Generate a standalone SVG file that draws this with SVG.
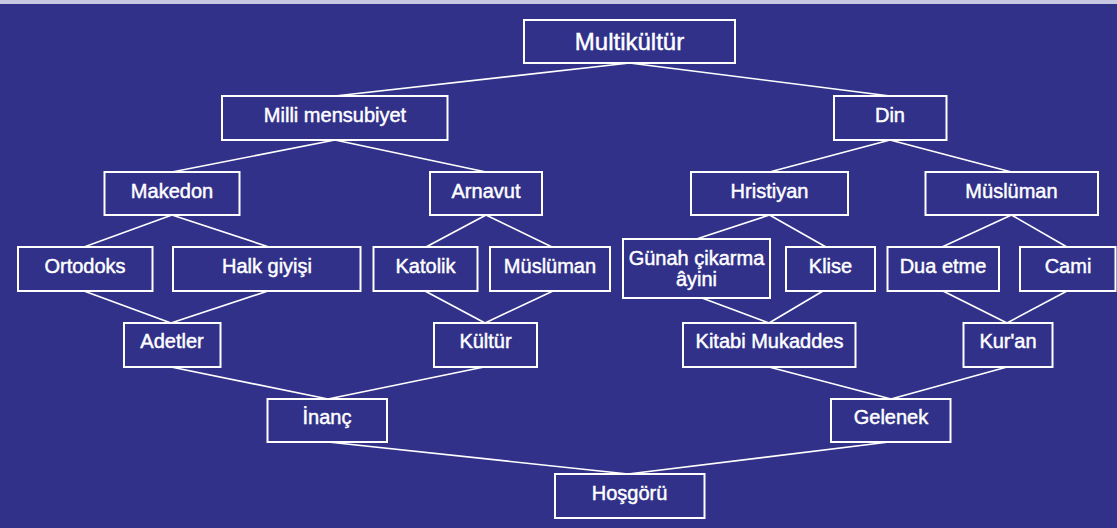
<svg xmlns="http://www.w3.org/2000/svg" width="1117" height="528" viewBox="0 0 1117 528">
<style>
.bx{fill:none;stroke:#ffffff;stroke-width:2}
.t{font-family:"Liberation Sans",Arial,sans-serif;font-size:20px;fill:#ffffff;stroke:#ffffff;stroke-width:0.45;text-anchor:middle}
.big{font-size:24px}
#connectors line{stroke:#ffffff;stroke-width:1.6}
</style>
<rect x="0" y="0" width="1117" height="528" fill="#31318a"/>
<rect x="0" y="0" width="1117" height="4" fill="#c8c8e2"/>
<g id="connectors">
<line x1="629.5" y1="63" x2="335" y2="96"/>
<line x1="629.5" y1="63" x2="890" y2="96"/>
<line x1="335" y1="140" x2="172" y2="172"/>
<line x1="335" y1="140" x2="486" y2="172"/>
<line x1="890" y1="140" x2="769.5" y2="172"/>
<line x1="890" y1="140" x2="1011.5" y2="172"/>
<line x1="172" y1="215" x2="84" y2="247"/>
<line x1="172" y1="215" x2="269" y2="247"/>
<line x1="486" y1="215" x2="426" y2="247"/>
<line x1="486" y1="215" x2="552" y2="247"/>
<line x1="769.5" y1="215" x2="696.5" y2="239"/>
<line x1="769.5" y1="215" x2="826" y2="247"/>
<line x1="1011.5" y1="215" x2="942" y2="247"/>
<line x1="1011.5" y1="215" x2="1067" y2="247"/>
<line x1="84" y1="291" x2="171" y2="323"/>
<line x1="268" y1="291" x2="171" y2="323"/>
<line x1="425" y1="291" x2="485" y2="323"/>
<line x1="553" y1="291" x2="485" y2="323"/>
<line x1="702" y1="298" x2="769" y2="323"/>
<line x1="823" y1="291" x2="769" y2="323"/>
<line x1="943" y1="291" x2="1007" y2="323"/>
<line x1="1067" y1="291" x2="1007" y2="323"/>
<line x1="171" y1="367" x2="328" y2="399"/>
<line x1="484" y1="367" x2="328" y2="399"/>
<line x1="769" y1="367" x2="891" y2="399"/>
<line x1="1007" y1="367" x2="891" y2="399"/>
<line x1="328" y1="442" x2="628" y2="474"/>
<line x1="889" y1="442" x2="628" y2="474"/>
</g>
<g id="multikultur"><rect class="bx" x="524" y="20" width="211" height="43"/><text class="t big" x="629.5" y="49.5">Multikültür</text></g>
<g id="milli"><rect class="bx" x="222" y="96" width="225.5" height="44"/><text class="t" x="335" y="122">Milli mensubiyet</text></g>
<g id="din"><rect class="bx" x="834" y="96" width="112.5" height="44"/><text class="t" x="890" y="122">Din</text></g>
<g id="makedon"><rect class="bx" x="104.5" y="172" width="135" height="43"/><text class="t" x="172" y="197.5">Makedon</text></g>
<g id="arnavut"><rect class="bx" x="430" y="172" width="112" height="43"/><text class="t" x="486" y="197.5">Arnavut</text></g>
<g id="hristiyan"><rect class="bx" x="691" y="172" width="157" height="43"/><text class="t" x="769.5" y="197.5">Hristiyan</text></g>
<g id="musluman1"><rect class="bx" x="925.5" y="172" width="172.5" height="43"/><text class="t" x="1011.5" y="197.5">Müslüman</text></g>
<g id="ortodoks"><rect class="bx" x="18" y="247" width="134.5" height="44"/><text class="t" x="85" y="273">Ortodoks</text></g>
<g id="halk"><rect class="bx" x="173" y="247" width="187.5" height="44"/><text class="t" x="267" y="273">Halk giyişi</text></g>
<g id="katolik"><rect class="bx" x="373.5" y="247" width="104" height="44"/><text class="t" x="425.5" y="273">Katolik</text></g>
<g id="musluman2"><rect class="bx" x="490" y="247" width="120" height="44"/><text class="t" x="550" y="273">Müslüman</text></g>
<g id="gunah"><rect class="bx" x="623" y="239" width="147" height="59"/><text class="t" x="696.5" y="264.5">Günah çikarma</text><text class="t" x="696.5" y="285.5">âyini</text></g>
<g id="klise"><rect class="bx" x="786" y="247" width="89" height="44"/><text class="t" x="830.5" y="273">Klise</text></g>
<g id="dua"><rect class="bx" x="887.5" y="247" width="111.5" height="44"/><text class="t" x="943" y="273">Dua etme</text></g>
<g id="cami"><rect class="bx" x="1020" y="247" width="95.5" height="44"/><text class="t" x="1068" y="273">Cami</text></g>
<g id="adetler"><rect class="bx" x="124" y="323" width="96.5" height="44"/><text class="t" x="172" y="348">Adetler</text></g>
<g id="kultur"><rect class="bx" x="434" y="323" width="103" height="44"/><text class="t" x="485.5" y="348">Kültür</text></g>
<g id="kitabi"><rect class="bx" x="683" y="323" width="172.5" height="44"/><text class="t" x="769.5" y="348">Kitabi Mukaddes</text></g>
<g id="kuran"><rect class="bx" x="963.5" y="323" width="89" height="44"/><text class="t" x="1008" y="348">Kur'an</text></g>
<g id="inanc"><rect class="bx" x="267.5" y="399" width="119.5" height="43"/><text class="t" x="327" y="424">İnanç</text></g>
<g id="gelenek"><rect class="bx" x="831" y="399" width="119.5" height="43"/><text class="t" x="891" y="424">Gelenek</text></g>
<g id="hosgoru"><rect class="bx" x="555" y="474" width="149.5" height="44"/><text class="t" x="629.5" y="499.5">Hoşgörü</text></g>
</svg>
